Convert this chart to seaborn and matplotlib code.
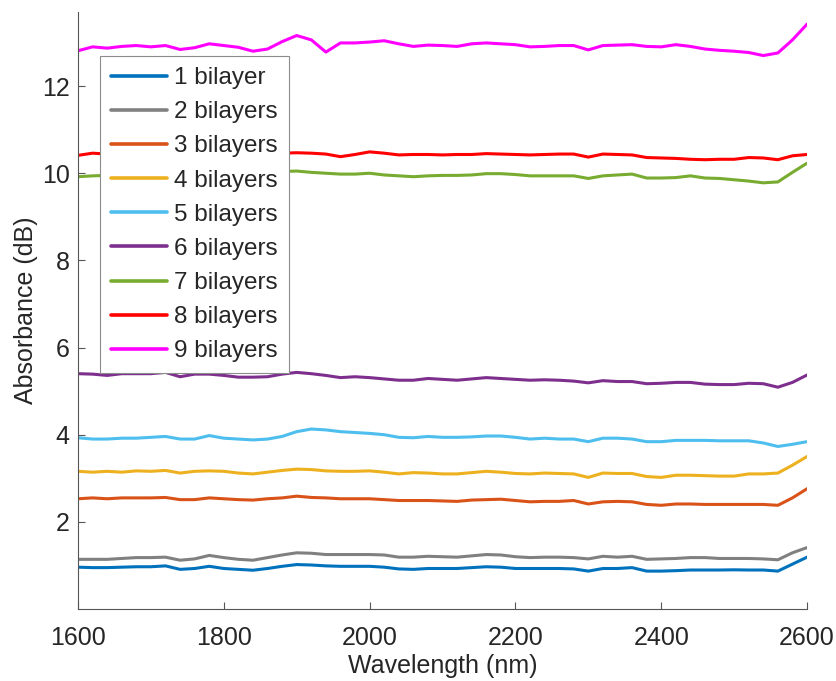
import numpy as np
import pandas as pd
import matplotlib
matplotlib.use("Agg")
import matplotlib.pyplot as plt
import seaborn as sns

# Wavelength grid (nm)
wavelength = np.arange(1600, 2601, 20)

# Absorbance (dB) for each number of bilayers
bilayer_1 = [0.96, 0.95, 0.95, 0.96, 0.97, 0.97, 0.99, 0.91, 0.93, 0.98,
             0.93, 0.91, 0.89, 0.93, 0.98, 1.02, 1.01, 0.99, 0.98, 0.98,
             0.98, 0.96, 0.92, 0.91, 0.93, 0.93,
             0.93, 0.95, 0.97, 0.96, 0.93, 0.93, 0.93, 0.93, 0.92, 0.87,
             0.93, 0.93, 0.95, 0.87, 0.87, 0.88, 0.895, 0.895, 0.895, 0.90,
             0.895, 0.895, 0.87, 1.03, 1.19]
bilayer_2 = [1.14, 1.14, 1.14, 1.16, 1.18, 1.18, 1.19, 1.12, 1.15, 1.23,
             1.18, 1.14, 1.12, 1.18, 1.24, 1.29, 1.28, 1.25, 1.25, 1.25,
             1.25, 1.24, 1.19, 1.19, 1.21, 1.20,
             1.19, 1.22, 1.25, 1.24, 1.20, 1.18, 1.19, 1.19, 1.18, 1.15,
             1.21, 1.19, 1.21, 1.14, 1.15, 1.16, 1.18, 1.18, 1.16, 1.16,
             1.16, 1.15, 1.13, 1.29, 1.41]
bilayer_3 = [2.53, 2.55, 2.53, 2.55, 2.55, 2.55, 2.56, 2.51, 2.51, 2.55,
             2.53, 2.51, 2.50, 2.53, 2.55, 2.59, 2.56, 2.55, 2.53, 2.53,
             2.53, 2.51, 2.49, 2.49, 2.49, 2.48,
             2.47, 2.50, 2.51, 2.52, 2.49, 2.46, 2.47, 2.47, 2.49, 2.41,
             2.46, 2.47, 2.46, 2.40, 2.38, 2.41, 2.41, 2.40, 2.40, 2.40,
             2.40, 2.40, 2.38, 2.55, 2.76]
bilayer_4 = [3.16, 3.14, 3.16, 3.14, 3.17, 3.16, 3.18, 3.12, 3.16, 3.17,
             3.16, 3.12, 3.10, 3.14, 3.18, 3.21, 3.20, 3.17, 3.16, 3.16,
             3.17, 3.14, 3.10, 3.13, 3.12, 3.10,
             3.10, 3.13, 3.16, 3.14, 3.11, 3.10, 3.12, 3.11, 3.10, 3.02,
             3.12, 3.11, 3.11, 3.04, 3.02, 3.07, 3.07, 3.06, 3.05, 3.05,
             3.10, 3.10, 3.12, 3.30, 3.50]
bilayer_5 = [3.93, 3.90, 3.90, 3.92, 3.92, 3.94, 3.96, 3.90, 3.90, 3.98,
             3.92, 3.90, 3.88, 3.90, 3.96, 4.07, 4.13, 4.11, 4.07, 4.05,
             4.03, 4.00, 3.94, 3.93, 3.96, 3.94,
             3.94, 3.95, 3.97, 3.97, 3.94, 3.90, 3.92, 3.90, 3.90, 3.84,
             3.92, 3.92, 3.90, 3.84, 3.84, 3.87, 3.87, 3.87, 3.86, 3.86,
             3.86, 3.81, 3.73, 3.78, 3.84]
bilayer_6 = [5.40, 5.39, 5.36, 5.40, 5.40, 5.40, 5.43, 5.33, 5.39, 5.39,
             5.36, 5.32, 5.32, 5.33, 5.39, 5.43, 5.40, 5.36, 5.31, 5.33,
             5.31, 5.28, 5.25, 5.25, 5.29, 5.27,
             5.25, 5.28, 5.31, 5.29, 5.27, 5.25, 5.26, 5.25, 5.23, 5.19,
             5.24, 5.22, 5.22, 5.17, 5.18, 5.20, 5.20, 5.16, 5.15, 5.15,
             5.18, 5.17, 5.09, 5.20, 5.37]
bilayer_7 = [9.92, 9.94, 9.95, 9.93, 9.96, 9.94, 9.95, 9.97, 9.94, 9.96,
             9.98, 10.00, 10.02, 10.03, 10.04, 10.05, 10.02, 10.00, 9.98, 9.98,
             10.00, 9.96, 9.94, 9.92, 9.94, 9.95,
             9.95, 9.96, 9.99, 9.99, 9.97, 9.94, 9.94, 9.94, 9.94, 9.88,
             9.94, 9.96, 9.98, 9.89, 9.89, 9.90, 9.94, 9.89, 9.88, 9.85,
             9.82, 9.78, 9.80, 10.02, 10.23]
bilayer_8 = [10.41, 10.46, 10.44, 10.42, 10.43, 10.41, 10.44, 10.42, 10.40, 10.43,
             10.45, 10.43, 10.41, 10.44, 10.46, 10.47, 10.46, 10.44, 10.38, 10.43,
             10.49, 10.46, 10.42, 10.43, 10.43, 10.42,
             10.43, 10.43, 10.45, 10.44, 10.43, 10.42, 10.43, 10.44, 10.44, 10.37,
             10.44, 10.43, 10.42, 10.36, 10.35, 10.34, 10.32, 10.31, 10.32, 10.32,
             10.36, 10.35, 10.31, 10.40, 10.43]
bilayer_9 = [12.81, 12.90, 12.87, 12.91, 12.93, 12.90, 12.93, 12.84, 12.88, 12.97,
             12.93, 12.89, 12.80, 12.85, 13.02, 13.16, 13.06, 12.78, 12.99, 12.99,
             13.01, 13.04, 12.97, 12.91, 12.94, 12.93,
             12.91, 12.97, 12.99, 12.97, 12.95, 12.90, 12.91, 12.93, 12.93, 12.83,
             12.93, 12.94, 12.95, 12.91, 12.90, 12.95, 12.91, 12.85, 12.82, 12.80,
             12.77, 12.70, 12.76, 13.06, 13.42]

labels = ["1 bilayer", "2 bilayers", "3 bilayers", "4 bilayers", "5 bilayers",
          "6 bilayers", "7 bilayers", "8 bilayers", "9 bilayers"]
colors = ["#0072BD", "#808080", "#D95319", "#EDB120", "#4DBEEE",
          "#7E2F8E", "#77AC30", "#FF0000", "#FF00FF"]
series = [bilayer_1, bilayer_2, bilayer_3, bilayer_4, bilayer_5,
          bilayer_6, bilayer_7, bilayer_8, bilayer_9]

df = pd.concat(
    [pd.DataFrame({"Wavelength": wavelength, "Absorbance": vals, "Sample": lab})
     for lab, vals in zip(labels, series)],
    ignore_index=True,
)

sns.set_theme(style="white")
plt.rcParams["font.family"] = ["Liberation Sans", "DejaVu Sans"]
text_color = "#262626"
axis_color = "#555555"

fig = plt.figure(figsize=(8.37, 6.81), dpi=100)
ax = fig.add_axes([0.0932, 0.1057, 0.8710, 0.8767])

sns.lineplot(data=df, x="Wavelength", y="Absorbance", hue="Sample",
             hue_order=labels, palette=colors, linewidth=2.2,
             estimator=None, sort=False, ax=ax)

ax.set_xlim(1600, 2600)
ax.set_ylim(0, 13.7)
ax.set_xticks(np.arange(1600, 2601, 200))
ax.set_yticks([2, 4, 6, 8, 10, 12])

for side in ("top", "right"):
    ax.spines[side].set_visible(False)
for side in ("left", "bottom"):
    ax.spines[side].set_color(axis_color)
    ax.spines[side].set_linewidth(0.8)

ax.tick_params(axis="both", which="major", direction="in", length=5,
               width=0.8, color=axis_color, labelcolor=text_color,
               labelsize=18, bottom=True, left=True, top=False, right=False)
ax.tick_params(axis="y", pad=6)
ax.tick_params(axis="x", pad=12)

ax.set_xlabel("Wavelength (nm)", fontsize=18, color=text_color, labelpad=3)
ax.set_ylabel("Absorbance (dB)", fontsize=18, color=text_color, labelpad=3)

leg = ax.legend(loc="upper left", bbox_to_anchor=(0.030, 0.926),
                borderaxespad=0, fontsize=17.5, frameon=True, fancybox=False,
                framealpha=1, edgecolor="#8c8c8c", handlelength=2.3,
                handletextpad=0.3, labelspacing=0.5, borderpad=0.45)
leg.get_frame().set_linewidth(0.8)
for txt in leg.get_texts():
    txt.set_color(text_color)
for line in leg.get_lines():
    line.set_linewidth(2.6)

fig.savefig("out.png", dpi=100)
